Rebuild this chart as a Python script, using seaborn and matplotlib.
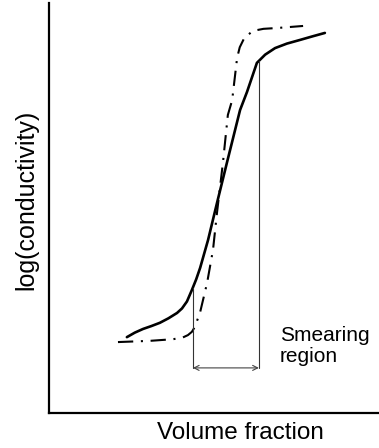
import numpy as np
import pandas as pd
import matplotlib
matplotlib.use("Agg")
import matplotlib.pyplot as plt
import seaborn as sns

# Solid curve (smeared percolation transition)
solid_x = [0.236, 0.260, 0.285, 0.310, 0.336, 0.362, 0.388, 0.403, 0.418,
           0.433, 0.446, 0.458, 0.482, 0.509, 0.539, 0.579, 0.600, 0.630,
           0.655, 0.685, 0.721, 0.761, 0.800, 0.836]
solid_y = [0.185, 0.196, 0.205, 0.212, 0.220, 0.231, 0.244, 0.255, 0.272,
           0.300, 0.326, 0.354, 0.422, 0.512, 0.610, 0.739, 0.783, 0.854,
           0.874, 0.890, 0.901, 0.910, 0.919, 0.927]

# Dash-dot curve (sharp transition)
sharp_x = [0.209, 0.306, 0.376, 0.405, 0.421, 0.433, 0.442, 0.458, 0.479,
           0.497, 0.509, 0.527, 0.542, 0.555, 0.570, 0.578, 0.592, 0.618,
           0.650, 0.691, 0.770]
sharp_y = [0.173, 0.176, 0.180, 0.184, 0.190, 0.198, 0.210, 0.246, 0.317,
           0.398, 0.488, 0.610, 0.727, 0.763, 0.866, 0.892, 0.915, 0.932,
           0.937, 0.939, 0.944]

# Smearing region bounds and arrow level
smear_x = [0.436, 0.636]
arrow_y = 0.110

x_label = "Volume fraction"
y_label = "log(conductivity)"
region_label = "Smearing\nregion"

sns.set_theme(style="white")
plt.rcParams['font.family'] = ['Liberation Sans', 'DejaVu Sans']
plt.rcParams['lines.scale_dashes'] = False

fig = plt.figure(figsize=(3.79, 4.48), dpi=100)
ax = fig.add_axes([49 / 379, 35 / 448, 1 - 49 / 379, 410 / 448])

df_s = pd.DataFrame({"x": solid_x, "y": solid_y})
df_d = pd.DataFrame({"x": sharp_x, "y": sharp_y})
sns.lineplot(data=df_s, x="x", y="y", ax=ax, color="black", lw=1.9,
             sort=False, estimator=None)
sns.lineplot(data=df_d, x="x", y="y", ax=ax, color="black", lw=1.5,
             sort=False, estimator=None, linestyle=(0, (11, 5.5, 1.5, 5.5)))

# vertical lines from solid curve down to arrow level
tops = np.interp(smear_x, solid_x, solid_y)
for xv, yt in zip(smear_x, tops):
    ax.plot([xv, xv], [arrow_y, yt], color="#333333", lw=0.8)
ax.annotate("", xy=(smear_x[0], arrow_y), xytext=(smear_x[1], arrow_y),
            arrowprops=dict(arrowstyle="<->", color="#444444", lw=0.8,
                            shrinkA=0, shrinkB=0, mutation_scale=9))

ax.text(0.70, 0.213, region_label, transform=ax.transAxes, fontsize=15,
        ha="left", va="top", linespacing=1.15, color="black")

ax.set_xlim(0, 1)
ax.set_ylim(0, 1)
ax.set_xticks([])
ax.set_yticks([])
ax.set_xlabel("")
ax.set_ylabel("")
for s in ["top", "right"]:
    ax.spines[s].set_visible(False)
for s in ["left", "bottom"]:
    ax.spines[s].set_color("black")
    ax.spines[s].set_linewidth(1.6)

ax.text(0.579, -0.049, x_label, transform=ax.transAxes, fontsize=17.5,
        ha="center", va="center", color="black")
ax.text(-0.07, 0.52, y_label, transform=ax.transAxes, fontsize=18,
        ha="center", va="center", rotation=90, color="black")

fig.savefig("out.png", dpi=100)
